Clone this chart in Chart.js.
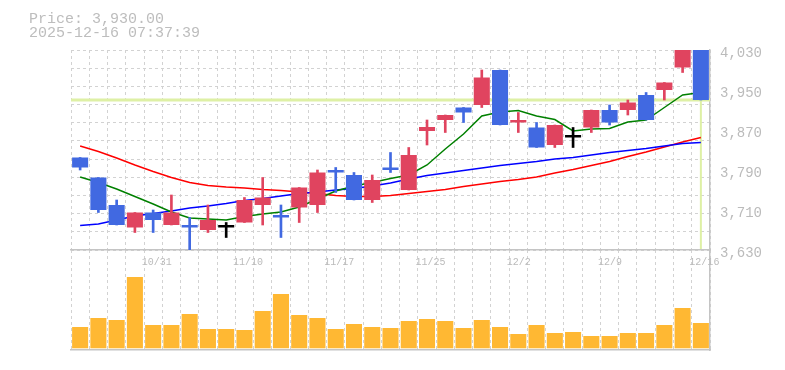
<!DOCTYPE html>
<html>
<head>
<meta charset="utf-8">
<script src="https://cdn.jsdelivr.net/npm/chart.js@4.4.1/dist/chart.umd.min.js"></script>
<style>
  html, body { margin: 0; padding: 0; background: #ffffff; }
  #wrap { position: relative; width: 785px; height: 370px; overflow: hidden; }
  canvas { position: absolute; left: 0; top: 0; }
  .hdr { position: absolute; left: 29px; font-family: 'Liberation Mono', 'DejaVu Sans Mono', monospace; font-size: 15px; line-height: 15px; color: #bdbdbd; white-space: pre; }
</style>
</head>
<body>
<div id="wrap">
  <canvas id="vol" width="785" height="370"></canvas>
  <canvas id="price" width="785" height="275"></canvas>
  <div class="hdr" id="h1" style="top:12px;"></div>
  <div class="hdr" id="h2" style="top:26px;"></div>
</div>
<script>
// ---- data ----
const dates = ['10/27','10/28','10/29','10/30','10/31','11/4','11/5','11/6','11/7','11/10',
               '11/11','11/12','11/13','11/14','11/17','11/18','11/19','11/20','11/21','11/25',
               '11/26','11/27','11/28','12/1','12/2','12/3','12/4','12/5','12/8','12/9',
               '12/10','12/11','12/12','12/15','12/16'];
const tickLabels = ['10/31','11/10','11/17','11/25','12/2','12/9','12/16'];
const opens  = [3815,3775,3720,3675,3705,3680,3680,3670,3675,3685,
                3720,3700,3715,3720,3790,3780,3730,3795,3750,3868,
                3890,3915,3920,3990,3885,3875,3840,3855,3875,3910,
                3910,3940,3950,3995,4030];
const highs  = [3815,3775,3730,3705,3710,3740,3695,3720,3685,3735,
                3775,3720,3755,3790,3795,3785,3780,3825,3835,3890,
                3900,3915,3990,3990,3905,3885,3880,3875,3910,3920,
                3930,3945,3965,4030,4030];
const lows   = [3790,3705,3680,3665,3665,3680,3630,3665,3655,3685,
                3680,3655,3685,3705,3745,3730,3725,3785,3750,3840,
                3865,3885,3915,3880,3865,3835,3835,3835,3865,3880,
                3900,3890,3930,3985,3930];
const closes = [3795,3710,3680,3705,3690,3705,3675,3690,3675,3730,
                3735,3695,3755,3785,3785,3730,3770,3790,3820,3876,
                3900,3905,3975,3880,3890,3835,3880,3855,3910,3885,
                3925,3890,3965,4030,3930];
const maShort = [3776,3765,3752,3737,3722,3706,3694,3692,3690,3697,
                 3702,3706,3716,3732,3748,3758,3765,3773,3780,3800,
                 3832,3862,3898,3906,3909,3898,3891,3868,3872,3873,
                 3886,3890,3915,3940,3945];
const maMid   = [3679,3682,3690,3698,3703,3708,3714,3718,3723,3729,
                 3733,3738,3743,3746,3750,3753,3758,3764,3772,3779,
                 3784,3789,3794,3799,3803,3807,3812,3815,3820,3825,
                 3829,3833,3838,3843,3845];
const maLong  = [3838,3827,3814,3800,3787,3775,3765,3759,3756,3754,
                 3751,3749,3746,3743,3739,3737,3737,3739,3743,3747,
                 3751,3757,3762,3767,3771,3776,3784,3791,3799,3807,
                 3817,3826,3836,3846,3855];
const volumes = [213,303,283,713,233,233,343,193,193,183,
                 373,543,333,303,193,243,213,203,273,293,
                 273,203,283,213,143,233,153,163,123,123,
                 153,153,233,403,253];
const priceTicks = [3630,3710,3790,3870,3950,4030];
const lastPrice = 3930;
const stampText = '2025-12-16 07:37:39';

// ---- styles ----
const UP = '#e0445f', DOWN = '#4169e1', FLAT = '#000000';
const GRID = '#d2d2d2', AXIS = '#c4c4c4', TXT = '#bbbbbb';
const MONO = "'Liberation Mono', 'DejaVu Sans Mono', monospace";
const candleColors = opens.map((o, i) => closes[i] > o ? UP : (closes[i] < o ? DOWN : FLAT));

document.getElementById('h1').textContent = 'Price: ' + lastPrice.toLocaleString('en-US', {minimumFractionDigits: 2, maximumFractionDigits: 2});
document.getElementById('h2').textContent = stampText;

const fmt = v => Math.round(v).toLocaleString('en-US');

const markerPlugin = {
  id: 'marker',
  beforeDatasetsDraw(chart) {
    const {ctx, chartArea: a, scales} = chart;
    const y = scales.y.getPixelForValue(lastPrice);
    const x = scales.x.getPixelForValue(dates.length - 1);
    ctx.save();
    ctx.strokeStyle = 'rgb(222,240,165)';
    ctx.lineWidth = 3;
    ctx.beginPath(); ctx.moveTo(a.left, y); ctx.lineTo(a.right, y); ctx.stroke();
    ctx.lineWidth = 2;
    ctx.beginPath(); ctx.moveTo(x, a.top); ctx.lineTo(x, a.bottom - 1); ctx.stroke();
    ctx.restore();
  }
};

new Chart(document.getElementById('price'), {
  type: 'bar',
  data: {
    labels: dates,
    datasets: [
      { type: 'line', data: maLong, borderColor: '#ff0000', borderWidth: 1.5, pointRadius: 0, tension: 0, order: 5 },
      { type: 'line', data: maMid, borderColor: '#0000ff', borderWidth: 1.5, pointRadius: 0, tension: 0, order: 4 },
      { type: 'line', data: maShort, borderColor: '#008000', borderWidth: 1.5, pointRadius: 0, tension: 0, order: 3 },
      { type: 'bar', data: lows.map((l, i) => [l, highs[i]]), backgroundColor: candleColors,
        barThickness: 2, grouped: false, order: 2 },
      { type: 'bar', data: opens.map((o, i) => [o, closes[i]]), backgroundColor: candleColors,
        barPercentage: 0.88, categoryPercentage: 1, minBarLength: 2.5, grouped: false, order: 1 }
    ]
  },
  options: {
    responsive: false, animation: false, devicePixelRatio: 1,
    layout: { padding: { left: 71, top: 50, right: 0, bottom: 0 } },
    plugins: { legend: { display: false }, tooltip: { enabled: false } },
    scales: {
      x: {
        position: 'bottom', offset: true,
        grid: { display: true, offset: true, color: GRID, lineWidth: 1, drawTicks: false },
        border: { display: true, color: AXIS, width: 1.5, dash: [3, 3] },
        ticks: {
          autoSkip: false, maxRotation: 0, minRotation: 0, align: 'start', labelOffset: -11.5, padding: 6,
          color: TXT, font: { family: MONO, size: 10 },
          callback: (v, i) => tickLabels.includes(dates[i]) ? dates[i] : ''
        },
        afterFit: s => { s.height = 25; }
      },
      y: {
        position: 'right', min: priceTicks[0], max: priceTicks[priceTicks.length - 1],
        grid: { display: false, drawTicks: false },
        border: { display: true, color: AXIS, width: 1.5 },
        afterBuildTicks: s => { s.ticks = priceTicks.map(v => ({ value: v })); },
        ticks: { color: TXT, font: { family: MONO, size: 14 }, padding: 10, labelOffset: 3, callback: v => fmt(v) },
        afterFit: s => { s.width = 75; }
      },
      yGrid: {
        position: 'left', min: 0, max: 11,
        grid: { color: GRID, lineWidth: 1, drawTicks: false },
        border: { display: false, dash: [3, 3] },
        ticks: { display: false, stepSize: 1 },
        afterFit: s => { s.width = 0; }
      }
    }
  },
  plugins: [markerPlugin]
});

new Chart(document.getElementById('vol'), {
  type: 'bar',
  data: {
    labels: dates,
    datasets: [
      { data: volumes, backgroundColor: '#ffb833', barPercentage: 0.88, categoryPercentage: 1 }
    ]
  },
  options: {
    responsive: false, animation: false, devicePixelRatio: 1,
    layout: { padding: { left: 71, top: 250, right: 0, bottom: 0 } },
    plugins: { legend: { display: false }, tooltip: { enabled: false } },
    scales: {
      x: {
        position: 'bottom', offset: true,
        grid: { display: true, offset: true, color: GRID, lineWidth: 1, drawTicks: false },
        border: { display: true, color: AXIS, width: 1.5, dash: [3, 3] },
        ticks: { display: false },
        afterFit: s => { s.height = 20; }
      },
      y: {
        position: 'right', min: -17, max: 983,
        grid: { display: false, drawTicks: false },
        border: { display: true, color: AXIS, width: 1.5 },
        ticks: { display: false },
        afterFit: s => { s.width = 75; }
      }
    }
  }
});
</script>
</body>
</html>
